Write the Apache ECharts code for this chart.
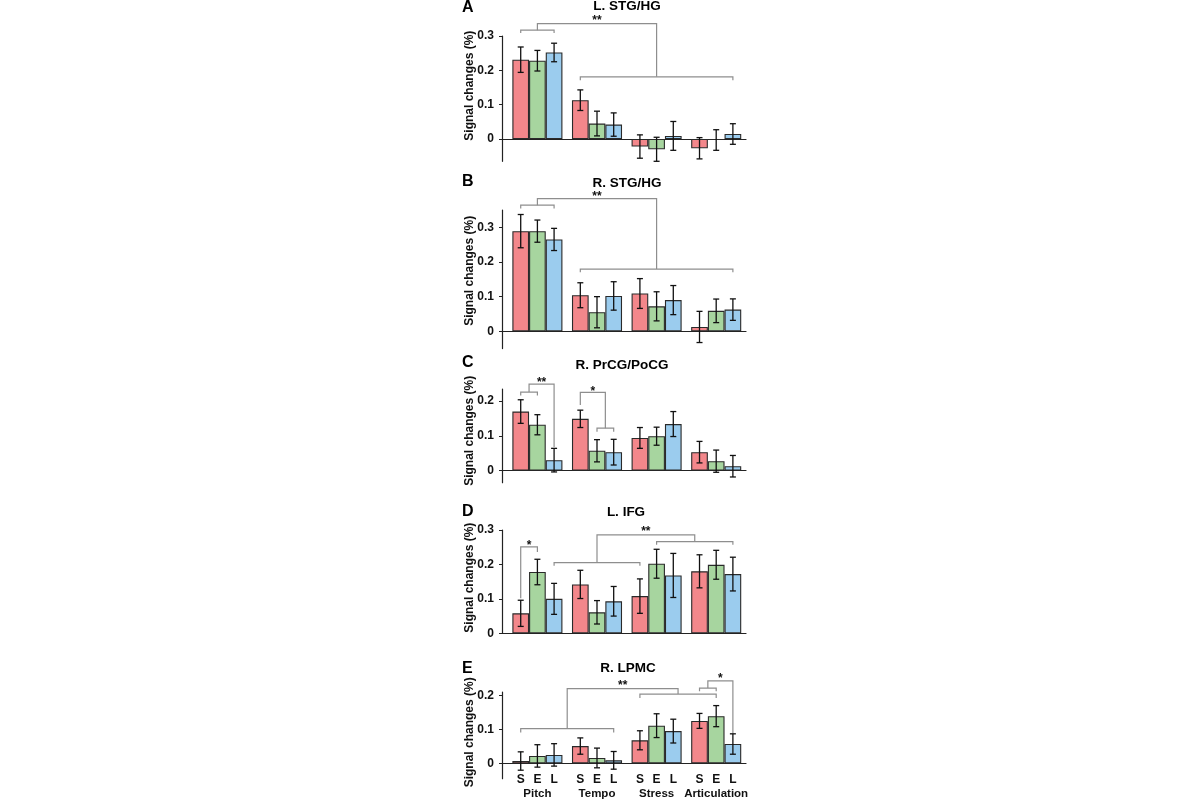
<!DOCTYPE html>
<html><head><meta charset="utf-8">
<script src="https://cdn.jsdelivr.net/npm/echarts@6/dist/echarts.min.js"></script>
<style>html,body{margin:0;padding:0;background:#fff}#c{width:1200px;height:800px}</style>
</head><body><div id="c"></div>
<script>
// ---------------- data ----------------
const categories = ['Pitch', 'Tempo', 'Stress', 'Articulation'];
const conditions = ['S', 'E', 'L'];
const panelLetters = ['A', 'B', 'C', 'D', 'E'];
const panelTitles = ['L. STG/HG', 'R. STG/HG', 'R. PrCG/PoCG', 'L. IFG', 'R. LPMC'];
const yAxisName = 'Signal changes (%)';

// A: L. STG/HG
const stgL_S = [0.231, 0.113, -0.022, -0.027];
const stgL_E = [0.228, 0.045, -0.030, -0.003];
const stgL_L = [0.252, 0.042, 0.009, 0.0145];
const stgL_S_err = [0.037, 0.030, 0.034, 0.031];
const stgL_E_err = [0.030, 0.036, 0.035, 0.030];
const stgL_L_err = [0.027, 0.034, 0.042, 0.030];
// B: R. STG/HG
const stgR_S = [0.289, 0.104, 0.109, 0.0125];
const stgR_E = [0.289, 0.055, 0.072, 0.059];
const stgR_L = [0.265, 0.102, 0.090, 0.0625];
const stgR_S_err = [0.048, 0.036, 0.043, 0.045];
const stgR_E_err = [0.032, 0.045, 0.042, 0.034];
const stgR_L_err = [0.032, 0.041, 0.042, 0.031];
// C: R. PrCG/PoCG
const prcg_S = [0.170, 0.149, 0.094, 0.053];
const prcg_E = [0.132, 0.057, 0.099, 0.027];
const prcg_L = [0.030, 0.053, 0.134, 0.0125];
const prcg_S_err = [0.034, 0.025, 0.030, 0.031];
const prcg_E_err = [0.029, 0.032, 0.026, 0.032];
const prcg_L_err = [0.034, 0.037, 0.036, 0.031];
// D: L. IFG
const ifg_S = [0.058, 0.142, 0.108, 0.180];
const ifg_E = [0.178, 0.061, 0.202, 0.199];
const ifg_L = [0.100, 0.093, 0.168, 0.172];
const ifg_S_err = [0.038, 0.041, 0.050, 0.048];
const ifg_E_err = [0.037, 0.034, 0.042, 0.042];
const ifg_L_err = [0.045, 0.043, 0.064, 0.049];
// E: R. LPMC
const lpmc_S = [0.007, 0.051, 0.068, 0.125];
const lpmc_E = [0.022, 0.016, 0.111, 0.139];
const lpmc_L = [0.025, 0.009, 0.095, 0.057];
const lpmc_S_err = [0.027, 0.024, 0.028, 0.022];
const lpmc_E_err = [0.033, 0.029, 0.035, 0.031];
const lpmc_L_err = [0.033, 0.026, 0.035, 0.030];

// y-axis tick labels
const ticksA = [0, 0.1, 0.2, 0.3];
const ticksB = [0, 0.1, 0.2, 0.3];
const ticksC = [0, 0.1, 0.2];
const ticksD = [0, 0.1, 0.2, 0.3];
const ticksE = [0, 0.1, 0.2];

// bar placement helper (category index + condition offset, in category units)
const GROUP_FRAC = 0.84;
const BAR_W = GROUP_FRAC / 3;
function bx(cat, cond) { return cat + (cond - 1) * BAR_W; }
function mid(a, b) { return (a + b) / 2; }

// significance brackets (polylines in data space) and star labels
const bracketsA = [
  [[bx(0,0),0.309],[bx(0,0),0.317],[bx(0,2),0.317],[bx(0,2),0.309]],
  [[bx(0,1),0.317],[bx(0,1),0.336],[bx(2,1),0.336],[bx(2,1),0.181]],
  [[bx(1,0),0.171],[bx(1,0),0.181],[bx(3,2),0.181],[bx(3,2),0.171]]
];
const starsA = [['**', mid(bx(0,1), bx(2,1)), 0.354]];
const bracketsB = [
  [[bx(0,0),0.3545],[bx(0,0),0.364],[bx(0,2),0.364],[bx(0,2),0.3545]],
  [[bx(0,1),0.364],[bx(0,1),0.383],[bx(2,1),0.383],[bx(2,1),0.1795]],
  [[bx(1,0),0.17],[bx(1,0),0.1795],[bx(3,2),0.1795],[bx(3,2),0.17]]
];
const starsB = [['**', mid(bx(0,1), bx(2,1)), 0.398]];
const bracketsC = [
  [[bx(0,0),0.216],[bx(0,0),0.226],[bx(0,1),0.226],[bx(0,1),0.216]],
  [[bx(0,0.5),0.226],[bx(0,0.5),0.249],[bx(0,2),0.249],[bx(0,2),0.068]],
  [[bx(1,0),0.189],[bx(1,0),0.225],[bx(1,1.5),0.225],[bx(1,1.5),0.122]],
  [[bx(1,1),0.112],[bx(1,1),0.122],[bx(1,2),0.122],[bx(1,2),0.112]]
];
const starsC = [['**', mid(bx(0,0.5), bx(0,2)), 0.263], ['*', mid(bx(1,0), bx(1,1.5)), 0.237]];
const bracketsD = [
  [[bx(0,0),0.102],[bx(0,0),0.251],[bx(0,1),0.251],[bx(0,1),0.236]],
  [[bx(0,2),0.196],[bx(0,2),0.205],[bx(2,0),0.205],[bx(2,0),0.196]],
  [[bx(1,1),0.205],[bx(1,1),0.286],[mid(bx(2,1),bx(3,2)),0.286],[mid(bx(2,1),bx(3,2)),0.266]],
  [[bx(2,1),0.257],[bx(2,1),0.266],[bx(3,2),0.266],[bx(3,2),0.257]]
];
const starsD = [['*', bx(0,0.5), 0.263], ['**', mid(bx(1,1), mid(bx(2,1),bx(3,2))), 0.305]];
const bracketsE = [
  [[bx(0,0),0.091],[bx(0,0),0.102],[bx(1,2),0.102],[bx(1,2),0.091]],
  [[mid(bx(0,0),bx(1,2)),0.102],[mid(bx(0,0),bx(1,2)),0.22],[mid(bx(2,0),bx(3,1)),0.22],[mid(bx(2,0),bx(3,1)),0.204]],
  [[bx(2,0),0.192],[bx(2,0),0.204],[bx(3,1),0.204],[bx(3,1),0.192]],
  [[bx(3,0),0.212],[bx(3,0),0.2215],[bx(3,1),0.2215],[bx(3,1),0.212]],
  [[bx(3,0.5),0.2215],[bx(3,0.5),0.243],[bx(3,2),0.243],[bx(3,2),0.089]]
];
const starsE = [['**', mid(mid(bx(0,0),bx(1,2)), mid(bx(2,0),bx(3,1))), 0.238], ['*', mid(bx(3,0.5), bx(3,2)), 0.259]];

// ---------------- layout / style ----------------
const FONT = "'Liberation Sans', Arial, Helvetica, sans-serif";
const COLORS = ['#F3878B', '#A7D59F', '#9BCCEE'];
const GRID_LEFT = 502, GRID_WIDTH = 244;
const X_MIN = -0.594, X_MAX = 3.5;

const panels = [
  {means:[stgL_S,stgL_E,stgL_L], errs:[stgL_S_err,stgL_E_err,stgL_L_err], ticks:ticksA, brackets:bracketsA, stars:starsA,
   min:-0.065, max:0.3, top:36, height:125.3, nameShift:13, letterY:7.5, titleY:6.2, titleX:627},
  {means:[stgR_S,stgR_E,stgR_L], errs:[stgR_S_err,stgR_E_err,stgR_L_err], ticks:ticksB, brackets:bracketsB, stars:starsB,
   min:-0.05, max:0.35, top:210, height:138.6, nameShift:8.5, letterY:181.7, titleY:183.3, titleX:627},
  {means:[prcg_S,prcg_E,prcg_L], errs:[prcg_S_err,prcg_E_err,prcg_L_err], ticks:ticksC, brackets:bracketsC, stars:starsC,
   min:-0.035, max:0.235, top:389, height:93.7, nameShift:5, letterY:363, titleY:365, titleX:622},
  {means:[ifg_S,ifg_E,ifg_L], errs:[ifg_S_err,ifg_E_err,ifg_L_err], ticks:ticksD, brackets:bracketsD, stars:starsD,
   min:0, max:0.3, top:530, height:103.3, nameShift:4, letterY:511.7, titleY:512.5, titleX:626},
  {means:[lpmc_S,lpmc_E,lpmc_L], errs:[lpmc_S_err,lpmc_E_err,lpmc_L_err], ticks:ticksE, brackets:bracketsE, stars:starsE,
   min:-0.045, max:0.21, top:692, height:86.7, nameShift:3, letterY:668.5, titleY:668, titleX:628}
];

const grid = [], xAxis = [], yAxis = [], series = [], graphic = [];

panels.forEach((p, i) => {
  grid.push({left: GRID_LEFT, width: GRID_WIDTH, top: p.top, height: p.height, containLabel: false, outerBoundsMode: 'none'});
  const isLast = i === panels.length - 1;
  xAxis.push({
    type: 'value', gridIndex: i, min: X_MIN, max: X_MAX,
    axisLine: {show: true, onZero: true, lineStyle: {color: '#222', width: 1.2}},
    axisTick: {show: false},
    splitLine: {show: false},
    axisLabel: {
      show: isLast,
      customValues: [0, 1, 2, 3],
      margin: -7,
      formatter: v => '{s|' + conditions[0] + '}{e|' + conditions[1] + '}{l|' + conditions[2] + '}\n{c|' + categories[Math.round(v)] + '}',
      rich: {
        s: {width: 16.7, align: 'center', fontSize: 12, fontWeight: 'bold', fontFamily: FONT, color: '#111', lineHeight: 15},
        e: {width: 16.7, align: 'center', fontSize: 12, fontWeight: 'bold', fontFamily: FONT, color: '#111', lineHeight: 15},
        l: {width: 16.7, align: 'center', fontSize: 12, fontWeight: 'bold', fontFamily: FONT, color: '#111', lineHeight: 15},
        c: {fontSize: 11.5, fontWeight: 'bold', fontFamily: FONT, color: '#111', lineHeight: 15}
      }
    }
  });
  yAxis.push({
    type: 'value', gridIndex: i, min: p.min, max: p.max,
    axisLine: {show: true, onZero: false, lineStyle: {color: '#222', width: 1.2}},
    axisTick: {show: true, length: 3, inside: false, customValues: p.ticks, lineStyle: {color: '#222', width: 1}},
    splitLine: {show: false},
    axisLabel: {customValues: p.ticks, margin: 8, fontSize: 12, fontWeight: 'bold', fontFamily: FONT, color: '#111',
      formatter: v => (Math.abs(v) < 1e-9 ? '0' : v.toFixed(1))},
    name: yAxisName, nameLocation: 'middle', nameGap: 26, nameMoveOverlap: false,
    nameTextStyle: {fontSize: 12, fontWeight: 'bold', fontFamily: FONT, color: '#111', padding: [0, 0, 0, 2 * p.nameShift]}
  });

  // bars
  conditions.forEach((cond, k) => {
    series.push({
      type: 'bar', name: cond, xAxisIndex: i, yAxisIndex: i,
      data: p.means[k].map((v, c) => [c, v]),
      barGap: '0%', barCategoryGap: ((1 - GROUP_FRAC) * 100).toFixed(1) + '%',
      itemStyle: {color: COLORS[k], borderColor: '#2a2a2a', borderWidth: 1.1},
      emphasis: {disabled: true}, z: 2
    });
  });

  // error bars
  const errData = [];
  conditions.forEach((cond, k) => {
    p.means[k].forEach((v, c) => errData.push([bx(c, k), v, p.errs[k][c]]));
  });
  series.push({
    type: 'custom', xAxisIndex: i, yAxisIndex: i, clip: false, z: 5, silent: true,
    encode: {x: 0, y: 1},
    data: errData,
    renderItem: (params, api) => {
      const x = api.value(0), m = api.value(1), e = api.value(2);
      const t = api.coord([x, m + e]), b = api.coord([x, m - e]);
      const cw = 3;
      const st = {stroke: '#111', lineWidth: 1.3};
      return {type: 'group', children: [
        {type: 'line', shape: {x1: t[0], y1: t[1], x2: b[0], y2: b[1]}, style: st},
        {type: 'line', shape: {x1: t[0] - cw, y1: t[1], x2: t[0] + cw, y2: t[1]}, style: st},
        {type: 'line', shape: {x1: b[0] - cw, y1: b[1], x2: b[0] + cw, y2: b[1]}, style: st}
      ]};
    }
  });

  // significance brackets
  series.push({
    type: 'custom', xAxisIndex: i, yAxisIndex: i, clip: false, z: 4, silent: true,
    encode: {x: 0, y: 1},
    data: p.brackets.map((b, j) => [b[0][0], b[0][1], j]),
    renderItem: (params, api) => {
      const pts = p.brackets[params.dataIndex].map(pt => api.coord(pt));
      return {type: 'polyline', shape: {points: pts}, style: {stroke: '#8e8e8e', lineWidth: 1.2, fill: 'none'}};
    }
  });
  // stars
  series.push({
    type: 'custom', xAxisIndex: i, yAxisIndex: i, clip: false, z: 6, silent: true,
    encode: {x: 1, y: 2},
    data: p.stars.map(s => [s[0], s[1], s[2]]),
    dimensions: ['label', 'x', 'y'],
    renderItem: (params, api) => {
      const s = p.stars[params.dataIndex];
      const pt = api.coord([s[1], s[2]]);
      return {type: 'text', x: pt[0], y: pt[1] + 3,
        style: {text: s[0], fill: '#111', font: 'bold 12px ' + FONT,
          align: 'center', verticalAlign: 'middle', textAlign: 'center', textVerticalAlign: 'middle'}};
    }
  });

  // panel letter & title
  graphic.push({type: 'text', x: 462, y: p.letterY, silent: true,
    style: {text: panelLetters[i], fill: '#000', font: 'bold 16px ' + FONT,
      align: 'left', verticalAlign: 'middle', textAlign: 'left', textVerticalAlign: 'middle'}});
  graphic.push({type: 'text', x: p.titleX, y: p.titleY, silent: true,
    style: {text: panelTitles[i], fill: '#000', font: 'bold 13.5px ' + FONT,
      align: 'center', verticalAlign: 'middle', textAlign: 'center', textVerticalAlign: 'middle'}});
});

const chart = echarts.init(document.getElementById('c'), null, {renderer: 'canvas'});
chart.setOption({
  animation: false,
  backgroundColor: '#fff',
  grid, xAxis, yAxis, series, graphic
});
</script>
</body></html>
